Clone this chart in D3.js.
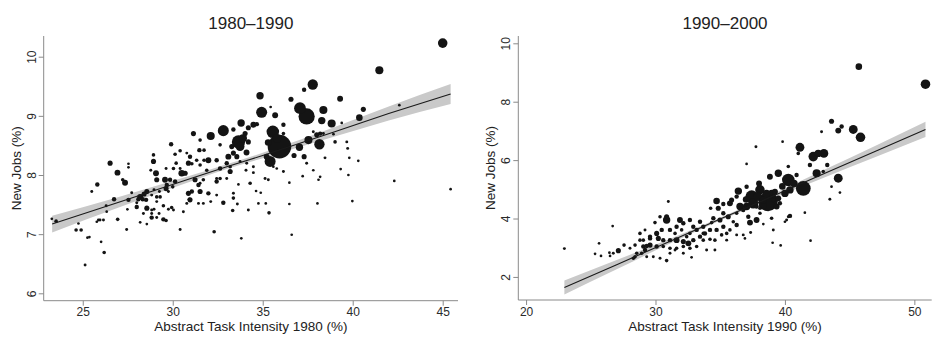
<!DOCTYPE html>
<html><head><meta charset="utf-8">
<script src="https://cdn.jsdelivr.net/npm/d3@7/dist/d3.min.js"></script>
<style>
body{margin:0;background:#fff;}
svg{display:block;font-family:"Liberation Sans",Arial,Helvetica,sans-serif;}
</style></head><body>
<svg id="chart" width="940" height="344"></svg>
<script>
// ---------- data ----------
const titles = ["1980\u20131990", "1990\u20132000"];
const xLabels = ["Abstract Task Intensity 1980 (%)", "Abstract Task Intensity 1990 (%)"];
const yLabel = "New Jobs (%)";
const xTicksL = [25, 30, 35, 40, 45];
const yTicksL = [6, 7, 8, 9, 10];
const xTicksR = [20, 30, 40, 50];
const yTicksR = [2, 4, 6, 8, 10];

// [abstract task intensity, new jobs, weight]
const points1980 = [
[45.0,10.23,42],[41.48,9.77,30],[37.78,9.53,49],[37.3,9.44,9],[34.85,9.34,25],[36.57,9.28,12],[39.3,9.29,16],
[37.07,9.13,64],[37.44,8.99,121],[34.94,9.06,56],[38.37,9.10,30],[40.59,9.11,12],[40.37,8.97,20],[38.28,8.92,25],
[38.83,8.87,30],[42.59,9.18,2],[35.69,9.01,16],[35.44,9.15,2],[32.81,8.75,56],[32.11,8.66,30],[33.8,8.88,25],
[33.37,8.77,9],[34.2,8.80,12],[34.48,8.85,16],[34.67,8.86,9],[34.02,8.70,12],[33.65,8.56,81],[33.74,8.48,36],
[34.2,8.56,12],[35.56,8.73,72],[35.93,8.48,256],[36.15,8.85,9],[36.15,8.70,6],[35.41,8.23,56],[35.22,8.31,16],
[38.15,8.52,49],[37.54,8.59,30],[38.0,8.68,12],[38.19,8.70,9],[37.81,8.73,4],[37.04,8.47,25],[37.3,8.31,12],
[36.74,8.33,12],[31.15,8.70,12],[31.52,8.59,6],[31.48,8.42,9],[31.74,8.42,6],[32.63,8.51,6],[33.28,8.48,12],
[33.37,8.37,12],[33.09,8.31,16],[33.56,8.31,12],[32.44,8.25,9],[32.63,8.11,9],[33.19,8.06,12],[33.0,8.20,9],
[31.98,8.25,16],[30.96,8.31,9],[30.87,8.20,12],[31.06,8.19,6],[31.33,8.25,6],[31.52,8.17,6],[31.74,8.25,6],
[30.5,8.03,20],[30.69,8.03,12],[31.24,7.92,12],[31.43,7.83,9],[31.52,7.86,4],[31.89,8.08,6],[32.44,7.94,4],
[32.63,7.94,6],[33.19,8.14,6],[33.74,8.23,4],[34.11,8.20,4],[34.48,8.14,4],[34.48,8.04,4],[34.07,8.08,4],
[32.44,7.89,9],[31.7,7.92,6],[29.91,8.52,9],[30.41,8.41,6],[30.13,8.35,6],[30.78,8.37,4],[30.19,8.20,6],
[30.04,8.11,6],[30.41,8.11,4],[29.63,8.11,4],[28.93,8.34,6],[28.93,8.23,12],[28.78,8.08,4],[29.07,8.03,16],
[29.11,7.92,12],[29.57,7.92,16],[29.85,7.92,9],[29.67,7.83,9],[29.63,7.77,12],[30.0,7.80,6],[30.13,7.89,9],
[29.76,7.72,4],[29.26,7.72,4],[28.96,7.75,4],[28.56,7.72,12],[28.41,7.68,12],[28.19,7.63,16],[28.33,7.59,9],
[28.09,7.59,9],[28.52,7.58,9],[28.83,7.66,4],[29.11,7.63,6],[29.3,7.63,6],[27.72,7.70,4],[28.0,7.53,4],
[27.54,7.58,9],[26.52,8.20,12],[26.93,8.04,16],[27.35,7.87,16],[27.22,7.92,6],[27.54,8.19,2],[27.54,8.13,2],
[25.81,7.84,9],[26.74,7.59,9],[26.3,7.48,4],[25.5,7.72,4],[28.0,7.46,9],[28.56,7.44,12],[28.83,7.41,4],
[28.96,7.42,4],[29.48,7.48,6],[29.76,7.42,4],[29.94,7.45,6],[29.11,7.55,4],[28.83,7.28,9],[29.48,7.25,9],
[29.63,7.23,6],[29.24,7.35,4],[28.83,7.35,4],[28.37,7.35,4],[29.11,7.28,4],[30.04,7.41,4],[30.59,7.38,4],
[30.87,7.69,12],[30.78,7.52,4],[30.96,7.58,12],[31.06,7.72,9],[30.93,7.59,6],[31.52,7.72,12],[31.7,7.52,4],
[31.43,7.52,4],[31.98,7.69,9],[32.11,7.55,4],[32.44,7.66,4],[32.81,7.53,9],[33.0,7.94,4],[33.37,7.69,4],
[33.65,7.84,2],[33.37,7.61,6],[33.59,7.51,4],[33.33,7.40,6],[34.3,7.86,6],[34.63,7.73,2],[34.89,7.70,2],
[34.76,7.52,2],[35.17,7.52,2],[35.35,7.36,6],[34.2,7.41,4],[35.13,7.94,4],[35.31,7.92,4],[36.15,8.06,4],
[36.48,7.87,2],[36.48,7.51,2],[36.61,6.99,2],[33.81,6.93,2],[32.3,7.04,6],[30.41,7.08,4],[35.59,8.14,2],
[35.78,8.11,2],[37.44,8.20,4],[37.22,7.98,2],[37.81,8.08,2],[38.19,7.97,2],[38.1,7.92,2],[38.46,8.29,4],
[39.02,8.56,6],[39.67,8.56,4],[39.72,8.45,4],[39.81,8.29,2],[40.31,8.24,2],[39.33,8.10,2],[39.76,8.0,2],
[39.98,7.56,2],[38.04,7.52,2],[42.31,7.90,2],[45.44,7.76,1],[39.39,8.88,2],[38.37,8.70,4],[38.93,8.69,2],
[25.96,7.24,4],[25.87,7.24,4],[26.15,7.24,4],[26.94,7.25,6],[26.33,7.38,2],[25.78,7.21,2],[23.52,7.22,6],
[23.28,7.26,2],[24.63,7.07,6],[24.91,7.07,6],[24.76,7.18,2],[25.26,6.94,2],[25.37,6.95,2],[26.02,6.87,2],
[26.19,6.69,6],[25.13,6.48,4],[27.44,7.08,4],[27.48,7.42,2],[28.56,7.17,2],[28.19,7.20,2],
[33.9,8.62,30],[34.1,8.38,16],[35.8,8.62,36],[35.3,8.55,20]
];

const points1990 = [
[50.86,8.60,42],[45.71,9.20,20],[43.6,7.33,12],[44.12,7.01,16],[44.38,7.15,9],[45.28,7.05,36],[45.84,6.78,42],
[42.83,6.97,4],[41.16,6.44,36],[41.03,6.23,6],[39.82,6.63,2],[37.76,6.46,4],[37.04,5.87,2],[42.19,6.12,42],
[42.57,6.23,25],[43.01,6.23,36],[41.93,5.83,9],[43.27,5.83,9],[42.45,5.55,30],[42.96,5.61,6],[44.12,5.38,36],
[43.6,5.09,2],[44.25,4.89,2],[43.47,4.66,4],[41.42,5.03,100],[40.26,5.32,72],[39.49,5.55,25],[38.84,5.43,16],
[40.39,4.98,25],[40.0,4.86,25],[40.26,5.78,6],[40.9,5.49,9],[38.07,4.98,42],[38.71,4.58,169],[37.43,4.75,72],
[37.55,4.52,49],[37.04,4.41,25],[36.53,4.41,25],[36.4,4.94,25],[37.04,5.09,9],[38.07,4.18,6],[39.36,4.41,16],
[38.97,4.01,6],[39.61,4.52,9],[40.39,4.09,9],[40.13,3.95,4],[39.1,4.63,9],[37.81,3.95,16],[37.3,3.86,16],
[37.35,3.52,4],[38.33,3.81,2],[36.78,3.44,4],[36.91,3.32,2],[35.75,4.52,16],[35.24,4.50,9],[34.72,4.60,20],
[34.85,4.35,12],[34.26,4.35,6],[35.24,4.18,9],[35.62,4.06,12],[34.98,3.95,12],[34.47,4.01,9],[34.34,3.86,6],
[36.01,3.89,6],[36.27,3.78,9],[35.75,3.61,6],[35.24,3.72,9],[34.72,3.61,9],[34.21,3.61,9],[33.69,3.72,9],
[33.82,3.49,9],[33.18,3.61,9],[33.44,3.89,9],[32.92,3.72,9],[32.66,3.95,9],[32.15,3.84,9],[31.63,3.72,9],
[31.89,3.95,16],[31.12,3.61,9],[30.86,3.95,25],[30.86,4.06,12],[30.48,3.61,9],[30.09,3.49,12],[29.96,3.86,6],
[29.58,3.38,9],[30.22,3.32,12],[30.6,3.26,9],[31.12,3.26,9],[31.63,3.26,16],[32.15,3.21,12],[32.54,3.15,16],
[32.41,3.38,6],[32.92,3.26,9],[33.44,3.38,9],[33.69,3.26,6],[34.21,3.29,6],[34.59,3.26,6],[35.11,3.44,6],
[35.5,3.49,6],[33.18,3.04,6],[32.66,2.98,6],[32.15,3.04,6],[31.63,2.98,6],[31.12,2.98,6],[30.6,3.04,6],
[30.09,3.04,9],[29.58,3.09,12],[29.06,3.04,9],[29.19,2.92,9],[28.93,2.81,6],[28.55,2.81,6],[28.42,2.69,6],
[28.29,2.64,6],[29.32,2.69,4],[29.83,2.69,4],[30.35,2.64,4],[30.86,2.56,6],[31.51,2.92,4],[31.12,2.81,4],
[32.15,2.81,4],[32.79,2.67,2],[33.95,2.92,4],[34.59,2.92,4],[28.8,3.26,6],[28.42,3.09,6],[28.03,2.98,4],
[27.57,3.09,6],[27.13,2.90,12],[26.74,2.81,4],[26.44,2.83,2],[26.49,2.72,2],[25.79,2.72,2],[25.33,2.79,1],
[25.64,3.15,1],[26.69,3.74,2],[22.96,2.97,4],[29.32,3.06,9],[29.06,3.26,6],[29.58,3.32,9],[28.8,3.49,6],
[29.19,3.61,4],[30.35,4.06,6],[30.99,4.58,4],[31.51,3.49,6],[32.02,3.61,6],[33.69,3.49,6],[32.66,3.49,6],
[35.5,3.26,4],[36.27,3.44,4],[41.54,4.20,2],[39.05,3.17,2],[39.67,3.08,2],[41.98,3.24,1],[40.0,3.89,2],
[40.26,4.06,4],[39.1,3.61,4],[38.07,4.35,6],[36.27,4.75,9],[35.88,4.63,12],[36.78,4.29,9],[37.17,4.06,9],
[36.27,4.18,6],[37.81,4.41,9],[38.33,4.63,25],[38.58,4.86,25],[39.23,4.92,16],[39.49,4.69,16],
[37.9,4.75,36],[38.3,4.45,30],[39.0,4.85,30],[37.0,4.65,20],[39.8,5.10,20],[40.7,5.20,25],[38.0,5.20,16]
];

// fitted line with confidence band, read at several x positions
const fitX1980 = [23.3, 27, 31, 33, 35, 39, 42, 45.44];
const fitY1980 = [7.17, 7.54, 7.94, 8.14, 8.33, 8.73, 9.04, 9.37];
const fitHalf1980 = [0.14, 0.09, 0.05, 0.04, 0.045, 0.08, 0.12, 0.17];
const fitX1990 = [22.96, 27, 31, 35, 39, 43, 47, 50.86];
const fitY1990 = [1.64, 2.42, 3.20, 3.98, 4.75, 5.53, 6.30, 7.05];
const fitHalf1990 = [0.24, 0.16, 0.08, 0.05, 0.07, 0.13, 0.19, 0.26];

// ---------- drawing ----------
const svg = d3.select("#chart");
const rScale = d3.scaleSqrt().domain([0, 256]).range([0, 11.8]);

const panels = [
  {title: titles[0], xl: xLabels[0], pts: points1980, fx: fitX1980, fy: fitY1980, fh: fitHalf1980,
   x: d3.scaleLinear().domain([22.83, 45.85]).range([43.7, 458]),
   y: d3.scaleLinear().domain([5.875, 10.35]).range([300.7, 36]),
   xt: xTicksL, yt: yTicksL},
  {title: titles[1], xl: xLabels[1], pts: points1990, fx: fitX1990, fy: fitY1990, fh: fitHalf1990,
   x: d3.scaleLinear().domain([19.4, 51.34]).range([518.3, 931.7]),
   y: d3.scaleLinear().domain([1.21, 10.25]).range([300, 36]),
   xt: xTicksR, yt: yTicksR}
];

panels.forEach(p => {
  const g = svg.append("g");
  const [x0, x1] = p.x.range();
  const [y0, y1] = p.y.range();
  const cx = (x0 + x1) / 2;

  // band
  const band = p.fx.map((v, i) => ({x: v, lo: p.fy[i] - p.fh[i], hi: p.fy[i] + p.fh[i], m: p.fy[i]}));
  g.append("path").datum(band)
    .attr("fill", "#c9c9c9")
    .attr("d", d3.area().x(d => p.x(d.x)).y0(d => p.y(d.lo)).y1(d => p.y(d.hi)).curve(d3.curveMonotoneX));

  // points
  const pts = p.pts.slice().sort((a, b) => b[2] - a[2]);
  g.selectAll("circle.pt").data(pts).join("circle")
    .attr("cx", d => p.x(d[0])).attr("cy", d => p.y(d[1]))
    .attr("r", d => Math.max(1.35, rScale(d[2])))
    .attr("fill", "#141414");

  // fit line
  g.append("path").datum(band)
    .attr("fill", "none").attr("stroke", "#1a1a1a").attr("stroke-width", 1.1)
    .attr("d", d3.line().x(d => p.x(d.x)).y(d => p.y(d.m)));

  // axes
  const xAxis = g.append("g").attr("transform", `translate(0,${y0})`)
    .call(d3.axisBottom(p.x).tickValues(p.xt).tickSize(5).tickPadding(2).tickFormat(d3.format("d")));
  const yAxis = g.append("g").attr("transform", `translate(${x0},0)`)
    .call(d3.axisLeft(p.y).tickValues(p.yt).tickSize(5).tickPadding(3).tickFormat(d3.format("d")));
  [xAxis, yAxis].forEach(a => {
    a.select(".domain").attr("stroke", "#8a8a8a").attr("d",
      a === xAxis ? `M${x0},0H${x1}` : `M0,${y0}V${y1}`);
    a.selectAll(".tick line").attr("stroke", "#8a8a8a");
    a.selectAll(".tick text").attr("fill", "#2a2a2a").style("font-size", "12px");
  });
  xAxis.selectAll(".tick text").attr("dy", "0.71em");
  yAxis.selectAll(".tick text")
    .attr("text-anchor", "middle").attr("dy", null)
    .attr("transform", "translate(-8,0) rotate(-90)")
    .attr("x", 0).attr("y", 0);

  // titles
  g.append("text").attr("x", cx).attr("y", 29).attr("text-anchor", "middle")
    .style("font-size", "17px").attr("fill", "#222").text(p.title);
  g.append("text").attr("x", cx).attr("y", 331).attr("text-anchor", "middle")
    .style("font-size", "13.5px").attr("fill", "#222").text(p.xl);
  g.append("text").attr("transform", `translate(${x0 - 23},${(y0 + y1) / 2}) rotate(-90)`)
    .attr("text-anchor", "middle").style("font-size", "13.5px").attr("fill", "#222").text(yLabel);
});
</script></body></html>
